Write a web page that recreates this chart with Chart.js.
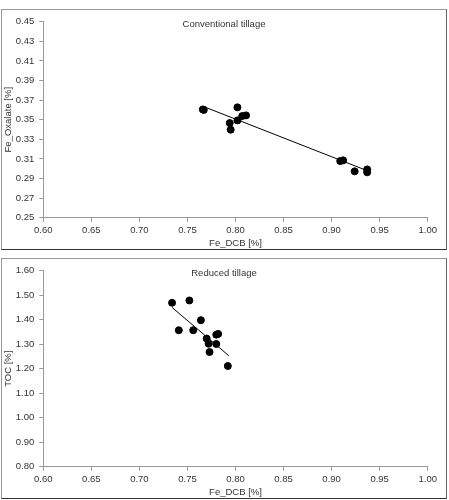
<!DOCTYPE html>
<html>
<head>
<meta charset="utf-8">
<script src="https://cdn.jsdelivr.net/npm/chart.js@4"></script>
<style>
  body { margin: 0; background: #fff; }
  .panel {
    position: absolute; left: 1px; width: 446px; height: 241px;
    box-sizing: border-box; border: 1px solid #999;
    border-bottom-color: #333; border-right-color: #666;
  }
  .panel canvas { display: block; }
</style>
</head>
<body>
<div class="panel" style="top:9px"><canvas id="conv" width="444" height="239"></canvas></div>
<div class="panel" style="top:258px"><canvas id="red" width="444" height="239"></canvas></div>
<script>
// Conventional tillage
var convX = [0.766, 0.767, 0.802, 0.794, 0.795, 0.802, 0.807, 0.811, 0.909, 0.912, 0.924, 0.937, 0.937];
var convY = [0.3605, 0.3600, 0.3626, 0.3466, 0.3398, 0.3493, 0.3537, 0.3544, 0.3078, 0.3085, 0.2973, 0.2993, 0.2963];
var convTrendX = [0.767, 0.937];
var convTrendY = [0.3633, 0.2980];

// Reduced tillage
var redX = [0.734, 0.752, 0.741, 0.756, 0.764, 0.770, 0.772, 0.773, 0.780, 0.780, 0.782, 0.792];
var redY = [1.469, 1.4785, 1.357, 1.357, 1.398, 1.323, 1.302, 1.268, 1.301, 1.339, 1.342, 1.211];
var redTrendX = [0.734, 0.793];
var redTrendY = [1.450, 1.253];

var xTicks = { min: 0.60, max: 1.00, step: 0.05 };
var convYTicks = { min: 0.25, max: 0.45, step: 0.02 };
var redYTicks = { min: 0.80, max: 1.60, step: 0.10 };

function pts(xs, ys) {
  return xs.map(function (x, i) { return { x: x, y: ys[i] }; });
}

var font = { family: 'Liberation Sans, Arial, sans-serif', size: 9.5 };

var innerTitle = {
  id: 'innerTitle',
  afterDraw: function (chart, args, opts) {
    var ctx = chart.ctx;
    ctx.save();
    ctx.font = '9.5px Liberation Sans, Arial, sans-serif';
    ctx.fillStyle = '#333';
    ctx.textAlign = 'center';
    ctx.textBaseline = 'middle';
    ctx.fillText(opts.text, chart.width / 2, 14);
    ctx.restore();
  }
};

function scatterchart(canvasId, title, xs, ys, tx, ty, yTicks, yLabel) {
  var ctx = document.getElementById(canvasId).getContext('2d');
  return new Chart(ctx, {
    type: 'scatter',
    data: {
      datasets: [{
        data: pts(xs, ys),
        backgroundColor: '#000',
        borderColor: '#000',
        pointRadius: 3.5,
        pointHoverRadius: 3.5
      }, {
        type: 'line',
        data: pts(tx, ty),
        borderColor: '#000',
        borderWidth: 1,
        pointRadius: 0,
        fill: false
      }]
    },
    options: {
      responsive: false,
      animation: false,
      layout: { padding: { top: 11.7, right: 18.3, left: 0, bottom: 0 } },
      plugins: {
        legend: { display: false },
        tooltip: { enabled: false },
        innerTitle: { text: title }
      },
      scales: {
        x: {
          type: 'linear',
          min: xTicks.min, max: xTicks.max,
          afterFit: function (s) { s.height = 31.3; },
          border: { display: true, color: '#999' },
          grid: { drawOnChartArea: false, tickLength: 4, color: '#999' },
          ticks: {
            stepSize: xTicks.step, color: '#333', font: font, padding: 3,
            callback: function (v) { return v.toFixed(2); }
          },
          title: { display: true, text: 'Fe_DCB [%]', color: '#333', font: font, padding: { top: 0, bottom: 0 } }
        },
        y: {
          type: 'linear',
          min: yTicks.min, max: yTicks.max,
          afterFit: function (s) { s.width = 41.3; },
          border: { display: true, color: '#999' },
          grid: { drawOnChartArea: false, tickLength: 4, color: '#999' },
          ticks: {
            stepSize: yTicks.step, color: '#333', font: font, padding: 5,
            callback: function (v) { return v.toFixed(2); }
          },
          title: { display: true, text: yLabel, color: '#333', font: font, padding: { top: 1, bottom: 0 } }
        }
      }
    },
    plugins: [innerTitle]
  });
}

scatterchart('conv', 'Conventional tillage', convX, convY, convTrendX, convTrendY, convYTicks, 'Fe_Oxalate [%]');
scatterchart('red', 'Reduced tillage', redX, redY, redTrendX, redTrendY, redYTicks, 'TOC [%]');
</script>
</body>
</html>
